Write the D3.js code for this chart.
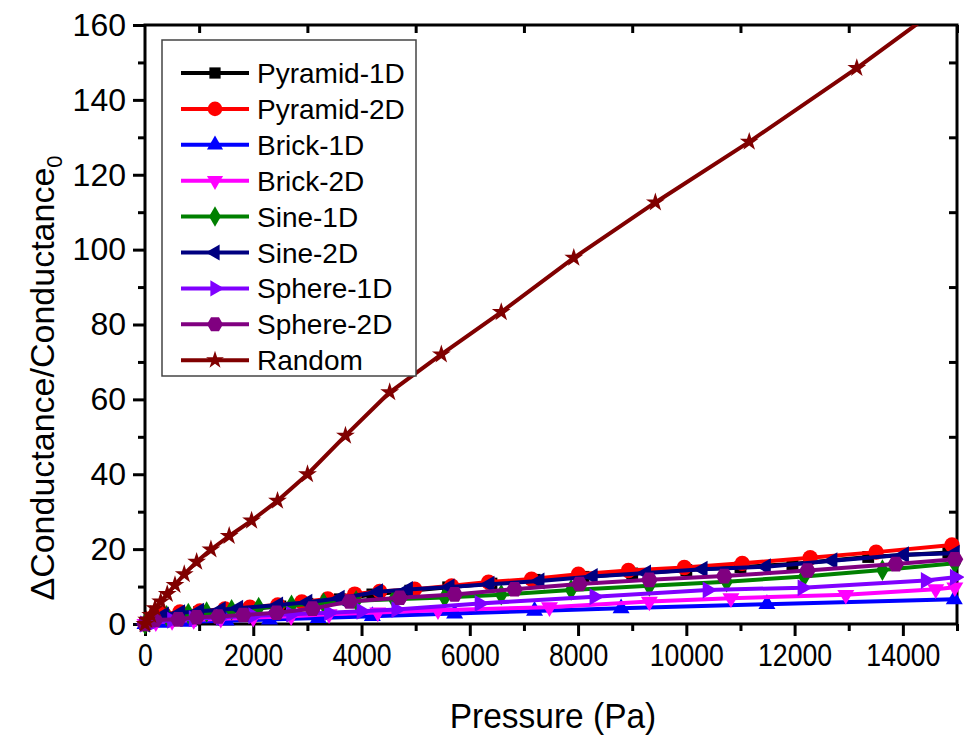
<!DOCTYPE html>
<html>
<head>
<meta charset="utf-8">
<script src="https://cdn.jsdelivr.net/npm/d3@7"></script>
<style>
  html, body { margin: 0; padding: 0; background: #fff; }
  svg { display: block; }
  text { font-family: "Liberation Sans", Arial, sans-serif; fill: #000; }
</style>
</head>
<body>
<svg id="chart" width="964" height="740"></svg>
<script>
// ---------------- DATA ----------------
const seriesNames = ["Pyramid-1D","Pyramid-2D","Brick-1D","Brick-2D","Sine-1D","Sine-2D","Sphere-1D","Sphere-2D","Random"];
const seriesColors = ["#000000","#ff0000","#0000ff","#ff00ff","#008000","#000080","#8000ff","#800080","#800000"];
const seriesMarkers = ["square","circle","triUp","triDown","diamond","triLeft","triRight","hexagon","star"];

const pyramid1D_x = [0,150,350,650,1000,1500,2000,2500,3000,3600,4200,4900,5600,6400,7200,8100,9000,10000,11000,11960,13360,14840];
const pyramid1D_y = [0,1.5,2.2,2.8,3.2,3.6,4.1,4.7,5.4,6.6,7.9,8.9,9.8,10.8,11.8,12.6,13.5,14.4,15.2,16.0,17.9,19.1];

const pyramid2D_x = [0,150,350,646,1015,1476,1937,2454,2897,3376,3875,4336,4982,5664,6347,7140,8007,8930,9963,11033,12288,13506,14908];
const pyramid2D_y = [0,1.8,2.6,3.2,3.5,4.0,4.5,5.1,5.9,6.7,8.0,8.7,9.3,10.2,11.2,12.0,13.3,14.3,15.1,16.2,17.7,19.2,21.1];

const brick1D_x = [0,300,800,1500,2300,3200,4200,5720,7196,8795,11489,14950];
const brick1D_y = [0,0.3,0.6,0.9,1.2,1.6,2.1,2.8,3.5,4.2,5.3,6.6];

const brick2D_x = [0,200,500,900,1400,2000,2700,3400,4300,5412,7472,9317,10824,12946,14607,14960];
const brick2D_y = [0,0.5,0.8,1.1,1.4,1.7,2.1,2.6,3.1,3.7,4.5,6.0,6.9,7.8,9.3,9.8];

const sine1D_x = [0,150,400,800,1138,1600,2100,2706,3300,3900,4600,5535,6581,7872,9317,10744,12177,13622,14960];
const sine1D_y = [0,1.5,2.2,2.8,3.2,3.8,4.4,5.0,5.6,6.2,6.6,7.1,7.8,9.1,10.2,11.3,12.7,14.4,16.2];

const sine2D_x = [0,150,350,650,1000,1400,1722,2460,3000,3598,4305,4858,5627,6365,7288,8272,9257,10301,11470,12699,14022,14960];
const sine2D_y = [0,1.6,2.4,3.0,3.4,3.8,4.2,5.1,5.8,6.9,8.6,9.2,9.9,10.6,11.5,12.7,13.6,14.6,15.3,16.9,18.5,18.9];

const sphere1D_x = [0,200,500,900,1400,2000,2700,3400,4000,4643,6181,8303,10393,12146,14423,14960];
const sphere1D_y = [0,0.6,1.0,1.4,1.8,2.2,2.6,3.0,3.4,3.9,5.5,7.3,9.1,9.7,11.6,12.5];

const sphere2D_x = [0,185,615,954,1353,1814,2430,3094,3782,4705,5720,6827,8026,9317,10701,12238,13869,14960];
const sphere2D_y = [0,1.1,1.25,1.8,2.0,2.4,3.0,4.1,6.0,7.0,7.9,9.3,10.7,11.8,12.8,14.3,16.0,17.3];

const random_x = [0,31,105,185,290,411,554,725,954,1218,1555,1969,2448,3002,3703,4520,5474,6581,7921,9428,11162,13149,15400];
const random_y = [0,1.1,2.4,4.2,6.0,8.0,10.4,13.3,16.6,19.9,23.5,27.6,32.9,40.0,50.3,61.9,72.0,83.3,97.8,112.6,128.8,148.5,172.3];

const xMajorTicks = [0,2000,4000,6000,8000,10000,12000,14000];
const xMinorTicks = [1000,3000,5000,7000,9000,11000,13000,15000];
const yMajorTicks = [0,20,40,60,80,100,120,140,160];
const yMinorTicks = [10,30,50,70,90,110,130,150];

const xTitle = "Pressure (Pa)";
const yTitleMain = "\u0394Conductance/Conductance";
const yTitleSub = "0";

// ---------------- LAYOUT ----------------
const svg = d3.select("#chart");
const L = 145, R = 957, T = 25, B = 624;
const x = d3.scaleLinear().domain([0, 15000]).range([L, R]);
const y = d3.scaleLinear().domain([0, 160]).range([B, T]);

const xs = [pyramid1D_x,pyramid2D_x,brick1D_x,brick2D_x,sine1D_x,sine2D_x,sphere1D_x,sphere2D_x,random_x];
const ys = [pyramid1D_y,pyramid2D_y,brick1D_y,brick2D_y,sine1D_y,sine2D_y,sphere1D_y,sphere2D_y,random_y];
const series = seriesNames.map((n,i) => ({
  name: n, color: seriesColors[i], marker: seriesMarkers[i],
  pts: xs[i].map((v,j) => ({x: v, y: ys[i][j]}))
}));

// custom symbols
const symbolHexagon = {
  draw(ctx, size) {
    const r = Math.sqrt(size / (1.5 * Math.sqrt(3)));
    for (let i = 0; i < 6; i++) {
      const a = Math.PI / 3 * i;
      const px = r * Math.cos(a), py = r * Math.sin(a);
      if (i === 0) ctx.moveTo(px, py); else ctx.lineTo(px, py);
    }
    ctx.closePath();
  }
};
const markerDef = {
  square:  {type: d3.symbolSquare,  size: 140, rot: 0},
  circle:  {type: d3.symbolCircle,  size: 185, rot: 0},
  triUp:   {type: d3.symbolTriangle, size: 125, rot: 0},
  triDown: {type: d3.symbolTriangle, size: 125, rot: 180},
  diamond: {type: d3.symbolDiamond, size: 135, rot: 0},
  triLeft: {type: d3.symbolTriangle, size: 125, rot: -90},
  triRight:{type: d3.symbolTriangle, size: 125, rot: 90},
  hexagon: {type: symbolHexagon,    size: 185, rot: 0},
  star:    {type: d3.symbolStar,    size: 110, rot: 0}
};

// clip
svg.append("defs").append("clipPath").attr("id","plotclip")
  .append("rect").attr("x", L).attr("y", T).attr("width", R - L).attr("height", B - T);

// ---------------- AXES ----------------
const axisW = 3;
function styleAxis(g) {
  g.select(".domain").remove();
  g.selectAll(".tick line").attr("stroke","#000").attr("stroke-width", axisW);
}
// bottom major
const gxb = svg.append("g").attr("transform", `translate(0,${B})`)
  .call(d3.axisBottom(x).tickValues(xMajorTicks).tickSize(12).tickPadding(8).tickFormat(d3.format("d")));
styleAxis(gxb);
gxb.selectAll("text").attr("font-size", 31).attr("transform","scale(0.86,1)");
// bottom minor
const gxbm = svg.append("g").attr("transform", `translate(0,${B})`)
  .call(d3.axisBottom(x).tickValues(xMinorTicks).tickSize(7).tickFormat(""));
styleAxis(gxbm);
// top minor (inward)
const gxt = svg.append("g").attr("transform", `translate(0,${T})`)
  .call(d3.axisTop(x).tickValues(xMinorTicks).tickSize(-8).tickFormat(""));
styleAxis(gxt);
// left major
const gyl = svg.append("g").attr("transform", `translate(${L},0)`)
  .call(d3.axisLeft(y).tickValues(yMajorTicks).tickSize(12).tickPadding(7));
styleAxis(gyl);
gyl.selectAll("text").attr("font-size", 32);
const gylm = svg.append("g").attr("transform", `translate(${L},0)`)
  .call(d3.axisLeft(y).tickValues(yMinorTicks).tickSize(7).tickFormat(""));
styleAxis(gylm);
// right minor (inward)
const gyr = svg.append("g").attr("transform", `translate(${R},0)`)
  .call(d3.axisRight(y).tickValues(yMinorTicks).tickSize(-8).tickFormat(""));
styleAxis(gyr);

// frame
svg.append("rect").attr("x", L).attr("y", T).attr("width", R - L).attr("height", B - T)
  .attr("fill","none").attr("stroke","#000").attr("stroke-width", axisW);

// titles
svg.append("text").attr("x", 553).attr("y", 728).attr("text-anchor","middle")
  .attr("font-size", 36).attr("transform","translate(553,0) scale(0.93,1) translate(-553,0)")
  .text(xTitle);
const yt = svg.append("text").attr("text-anchor","middle")
  .attr("transform","translate(54,378) rotate(-90)").attr("font-size", 34);
yt.append("tspan").text(yTitleMain);
yt.append("tspan").attr("font-size", 22).attr("dy", 8).text(yTitleSub);

// ---------------- SERIES ----------------
const line = d3.line().x(d => x(d.x)).y(d => y(d.y));
const plot = svg.append("g");
series.forEach(s => {
  plot.append("path").datum(s.pts).attr("d", line)
    .attr("fill","none").attr("stroke", s.color).attr("stroke-width", 4)
    .attr("stroke-linejoin","round").attr("clip-path","url(#plotclip)");
  const md = markerDef[s.marker];
  const sym = d3.symbol().type(md.type).size(md.size);
  plot.selectAll(null).data(s.pts.filter(d => d.x <= 15000 && d.y <= 160)).enter()
    .append("path").attr("d", sym)
    .attr("transform", d => `translate(${x(d.x)},${y(d.y)}) rotate(${md.rot})`)
    .attr("fill", s.color);
});

// ---------------- LEGEND ----------------
const lg = svg.append("g");
lg.append("rect").attr("x",162).attr("y",40).attr("width",254).attr("height",336)
  .attr("fill","#fff").attr("stroke","#444").attr("stroke-width",1.5);
series.forEach((s,i) => {
  const cy = 73 + i * 35.9;
  lg.append("line").attr("x1",181).attr("x2",249).attr("y1",cy).attr("y2",cy)
    .attr("stroke", s.color).attr("stroke-width", 4);
  const md = markerDef[s.marker];
  lg.append("path").attr("d", d3.symbol().type(md.type).size(md.size * 0.9)())
    .attr("transform", `translate(215,${cy}) rotate(${md.rot})`).attr("fill", s.color);
  lg.append("text").attr("x",257).attr("y",cy).attr("dy","0.36em")
    .attr("font-size",28).text(s.name);
});
</script>
</body>
</html>
